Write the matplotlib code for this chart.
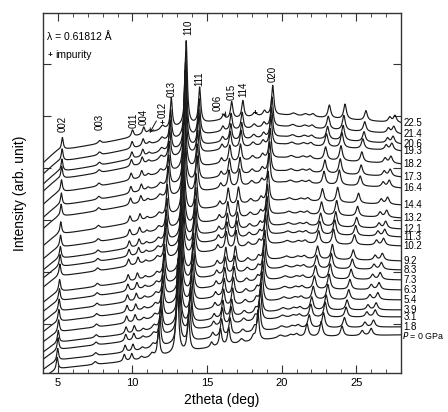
import numpy as np
import matplotlib
matplotlib.use('Agg')
import matplotlib.pyplot as plt
from matplotlib import font_manager

plt.rcParams['font.family'] = ['Liberation Sans', 'DejaVu Sans']
names = {f.name for f in font_manager.fontManager.ttflist}
narrow = ['Liberation Sans Narrow', 'Liberation Sans'] if 'Liberation Sans Narrow' in names else ['Liberation Sans']

# ---- data ----
pressures = ['P = 0 GPa', '1.8', '3.1', '3.9', '5.4', '6.3', '7.3', '8.3', '9.2', '10.2', '11.3',
             '12.1', '13.2', '14.4', '16.4', '17.3', '18.2', '19.3', '20.6', '21.4', '22.5']
# intensity level of each pattern at the right end (arb. unit)
curve_end = [38, 46, 56, 63, 73, 83, 93, 103, 112, 127, 136, 144, 155, 168, 185, 196, 209, 222, 229, 239, 250]
# fraction of the total peak shift reached at each pressure
shift_frac = [0, 0.10, 0.17, 0.21, 0.28, 0.33, 0.38, 0.43, 0.47, 0.52, 0.57,
              0.61, 0.65, 0.69, 0.76, 0.80, 0.83, 0.87, 0.92, 0.95, 1.0]

# background knots (relative to right end) at lowest and highest pressure
bg_x = [4.0, 4.5, 5.0, 6.0, 8.0, 10.0, 12.0, 14.0, 16.0, 18.0, 20.0, 22.0, 25.0, 28.0]
bg_low = [-43, -38, -34, -32, -29, -26, -21, -16, -11, -7, -3, -2, -1, 0]
bg_high = [-40, -33, -27, -25, -20, -14, -7, -2, 3, 6, 8, 6, 3, 0]

# peaks: position at 0 GPa, position at 22.5 GPa, height, half width
peak_pos_low = [4.95, 7.50, 9.45, 9.95, 10.60, 11.30, 11.75, 13.00, 13.75, 15.30, 15.90, 16.45,
                17.30, 18.10, 18.40, 19.90, 20.60, 21.00, 21.70, 22.65, 24.05, 25.40, 26.00]
peak_pos_high = [5.30, 7.80, 10.00, 10.75, 11.15, 12.00, 12.60, 13.60, 14.50, 16.10, 16.65, 17.40,
                 18.20, 18.85, 19.40, 20.80, 21.60, 22.10, 23.20, 24.25, 25.65, 27.25, 27.60]
peak_height = [12, 3, 7, 7, 2.5, 4, 30, 85, 36, 5, 17, 17, 4, 5, 30, 2.5, 2.5, 3, 13, 15, 10, 5, 7]
peak_hw = [0.07, 0.12, 0.09, 0.09, 0.12, 0.15, 0.08, 0.09, 0.09, 0.10, 0.09, 0.09,
           0.15, 0.12, 0.09, 0.20, 0.20, 0.15, 0.11, 0.11, 0.11, 0.12, 0.12]

hkl_labels = ['002', '003', '011', '004', '013', '110', '111', '015', '114', '020']
hkl_x = [5.3, 7.8, 10.05, 10.75, 12.6, 13.72, 14.5, 16.62, 17.42, 19.38]
hkl_y = [241, 243, 245, 248, 276, 338, 287, 273, 276, 291]

# ---- figure ----
fig = plt.figure(figsize=(4.48, 4.12), dpi=100)
ax = fig.add_axes([0.096, 0.095, 0.799, 0.873])

x = np.linspace(4.0, 28.0, 2400)
for i in range(len(pressures)):
    f = shift_frac[i]
    bg = (1 - f) * np.interp(x, bg_x, bg_low) + f * np.interp(x, bg_x, bg_high)
    y = curve_end[i] + bg
    for p0, p1, h, w in zip(peak_pos_low, peak_pos_high, peak_height, peak_hw):
        c = p0 + f * (p1 - p0)
        y = y + h / (1 + ((x - c) / w) ** 2)
    ax.plot(x, y, color='#1a1a1a', lw=0.85)

ax.set_xlim(4, 28)
ax.set_ylim(0, 360)
ax.set_xticks([5, 10, 15, 20, 25])
ax.set_xticks(np.arange(4, 29, 1), minor=True)
ax.set_yticks([49, 101, 153, 205, 257, 309])
ax.set_yticklabels([])
ax.tick_params(axis='both', which='both', direction='in', top=True, right=True, color='#333333')
ax.tick_params(axis='x', which='major', length=6, labelsize=8, pad=4)
ax.tick_params(axis='x', which='minor', length=3)
ax.tick_params(axis='y', which='major', length=6)
for s in ax.spines.values():
    s.set_color('#333333')
    s.set_linewidth(1.0)

ax.set_xlabel('2theta (deg)', fontsize=10, labelpad=3)
ax.set_ylabel('Intensity (arb. unit)', fontsize=10, labelpad=8)

# annotations
ax.text(4.3, 336, 'λ = 0.61812 Å', fontsize=7.5, va='center')
ax.text(4.3, 318, '+', fontsize=6, fontweight='bold', va='center')
ax.text(4.85, 318, 'impurity', fontsize=7.5, va='center')

for lab, lx, ly in zip(hkl_labels, hkl_x, hkl_y):
    ax.text(lx, ly, lab, rotation=90, fontsize=7, ha='center', va='bottom')

ax.annotate('012', xy=(11.15, 240), xytext=(12.0, 255), rotation=90, fontsize=7,
            ha='center', va='bottom',
            arrowprops=dict(arrowstyle='->', color='#111111', lw=0.7, shrinkA=0, shrinkB=0))
ax.annotate('006', xy=(16.3, 256), xytext=(15.7, 262), rotation=90, fontsize=7,
            ha='center', va='bottom',
            arrowprops=dict(arrowstyle='->', color='#111111', lw=0.7, shrinkA=0, shrinkB=0))
ax.text(12.0, 250, '+', fontsize=6, fontweight='bold', ha='center', va='center')
ax.text(18.2, 260, '+', fontsize=6, fontweight='bold', ha='center', va='center')

# pressure labels at right
for i, lab in enumerate(pressures):
    yy = curve_end[i]
    if lab.startswith('P'):
        ax.text(28.1, yy - 1, r'$P$ = 0 GPa', fontsize=6.4, va='center', ha='left',
                family=narrow, clip_on=False)
    else:
        ax.text(28.15, yy, lab, fontsize=7, va='center', ha='left',
                family=narrow, clip_on=False)

fig.savefig('out.png', dpi=100)
